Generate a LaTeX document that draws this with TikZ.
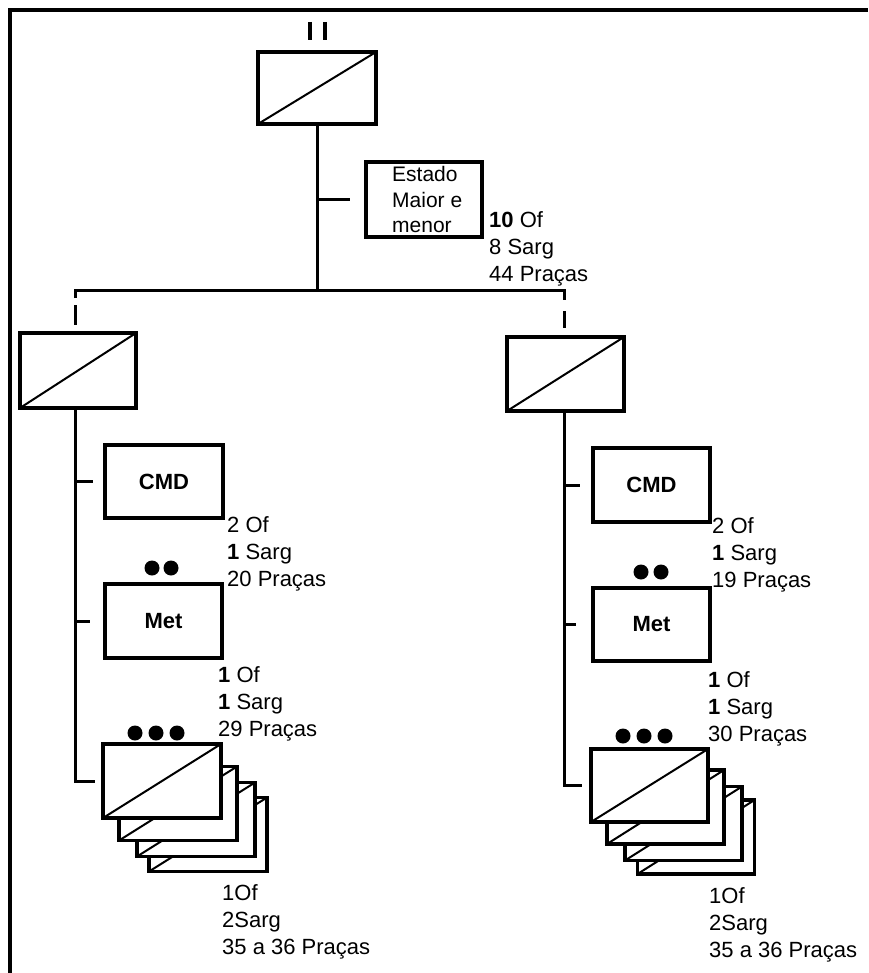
\documentclass[tikz,border=0pt]{standalone}
\usepackage{fontspec}
\setmainfont{Liberation Sans}
\usetikzlibrary{calc}
\newcommand\threelines[6]{%
  \node[lbl] (#1a) at (#2,#3) {#4};
  \node[lbl] (#1b) at (#2,#3+27) {#5};
  \node[lbl] (#1c) at (#2,#3+54) {#6};}
\begin{document}
\begin{tikzpicture}[x=1pt,y=-1pt,
  ln/.style={line width=3pt},
  box/.style={draw,line width=3.2pt,inner sep=0pt,fill=white,rectangle,
    minimum width=117pt,minimum height=74pt,font=\fontsize{22}{25}\selectfont\bfseries},
  unit/.style={box,path picture={\draw[line width=2pt]
    (path picture bounding box.south west) -- (path picture bounding box.north east);}},
  lbl/.style={anchor=base west,inner sep=0pt,font=\fontsize{22}{25}\selectfont},
  etxt/.style={anchor=base west,inner sep=0pt,font=\fontsize{21}{25}\selectfont},
  dot/.style={fill=black}]
\useasboundingbox (0,0) rectangle (868,973);
% frame
\draw[line width=4pt] (10,973) -- (10,10) -- (868,10);

% top unit
\node[unit,minimum width=118pt,minimum height=72pt] (top) at (317,88) {};
\draw[line width=4.5pt] (310,22) -- (310,40);
\draw[line width=4.5pt] (325,22) -- (325,40);

% Estado Maior
\node[box,minimum width=116pt,minimum height=75pt] (est) at (424,199.5) {};
\node[etxt] (est1) at (392,182) {Estado};
\node[etxt] (est2) at (392,208) {Maior e};
\node[etxt] (est3) at (392,233) {menor};
\threelines{lt}{489}{228}{\textbf{10} Of}{8 Sarg}{44 Praças}

% bus
\coordinate (busM) at (317,290);
\coordinate (busL) at (75,290);
\coordinate (busR) at (564,290);
\draw[ln] (top.south) -- (busM);
\draw[ln] (est.west -| busM) -- ($(est.west -| busM)+(33,0)$);
\draw[ln] ($(busL)+(0,8)$) -- (busL) -- (busR) -- ($(busR)+(0,10)$);
\draw[ln] ($(busL)+(0,15)$) -- ($(busL)+(0,35)$);
\draw[ln] ($(busR)+(0,21)$) -- ($(busR)+(0,38)$);

% ---------- left sub-unit ----------
\node[unit,minimum width=116pt,minimum height=75pt] (subL) at (78,370.5) {};
\coordinate (trL) at (75,0);
\node[box,minimum width=118pt,minimum height=73pt] (cmdL) at (164,481.5) {CMD};
\node[box] (metL) at (163.5,621) {Met};
\node[unit,minimum width=118pt] (stL4) at (208,834.5) {};
\node[unit,minimum width=118pt] (stL3) at (196,819.5) {};
\node[unit,minimum width=118pt] (stL2) at (178,803.5) {};
\node[unit,minimum width=118pt] (stL1) at (162,781) {};
\draw[ln] (subL.south -| trL) -- (trL |- stL1.west) -- ($(stL1.west)+(-6,0)$);
\draw[ln] (trL |- cmdL.west) -- ($(cmdL.west)+(-10,0)$);
\draw[ln] (trL |- metL.west) -- ($(metL.west)+(-13,0)$);
\fill[dot] (152,568) circle (7.5);
\fill[dot] (171,568) circle (7.5);
\fill[dot] (135,733) circle (7.5);
\fill[dot] (156,733) circle (7.5);
\fill[dot] (177,733) circle (7.5);
\threelines{lc}{227}{532}{2 Of}{\textbf{1} Sarg}{20 Praças}
\threelines{lm}{218}{682}{\textbf{1} Of}{\textbf{1} Sarg}{29 Praças}
\threelines{ls}{222}{900}{1Of}{2Sarg}{35 a 36 Praças}

% ---------- right sub-unit ----------
\node[unit] (subR) at (565.5,374) {};
\coordinate (trR) at (564,0);
\node[box] (cmdR) at (651.5,485) {CMD};
\node[box,minimum height=73pt] (metR) at (651.5,624.5) {Met};
\node[unit] (stR4) at (696,837) {};
\node[unit] (stR3) at (683.5,823.5) {};
\node[unit] (stR2) at (665.5,807) {};
\node[unit,minimum height=73pt] (stR1) at (649.5,785.5) {};
\draw[ln] (subR.south -| trR) -- (trR |- stR1.west) -- ($(stR1.west)+(-7,0)$);
\draw[ln] (trR |- cmdR.west) -- ($(cmdR.west)+(-11,0)$);
\draw[ln] (trR |- metR.west) -- ($(metR.west)+(-15,0)$);
\fill[dot] (641,572) circle (7.5);
\fill[dot] (661,572) circle (7.5);
\fill[dot] (623,736) circle (7.5);
\fill[dot] (644,736) circle (7.5);
\fill[dot] (665,736) circle (7.5);
\threelines{rc}{712}{533}{2 Of}{\textbf{1} Sarg}{19 Praças}
\threelines{rm}{708}{687}{\textbf{1} Of}{\textbf{1} Sarg}{30 Praças}
\threelines{rs}{709}{903}{1Of}{2Sarg}{35 a 36 Praças}
\end{tikzpicture}
\end{document}
